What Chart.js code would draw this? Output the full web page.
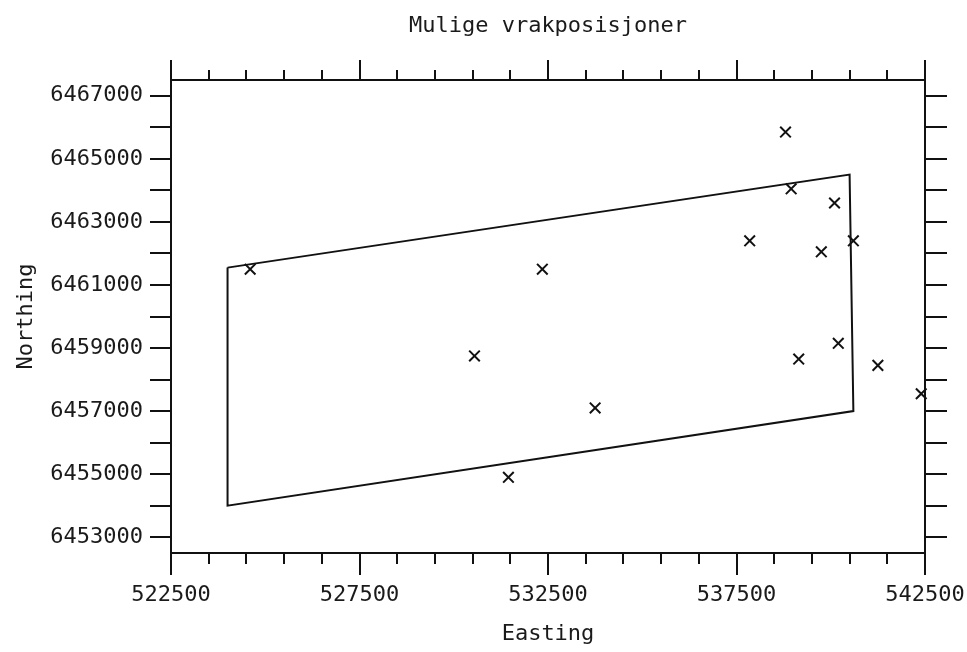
<!DOCTYPE html>
<html>
<head>
<meta charset="utf-8">
<title>Mulige vrakposisjoner</title>
<script src="https://cdn.jsdelivr.net/npm/chart.js@4.4.1/dist/chart.umd.min.js"></script>
<style>
  html, body { margin: 0; padding: 0; background: #fff; }
  #wrap { width: 967px; height: 652px; }
</style>
</head>
<body>
<div id="wrap"><canvas id="vrakChart" width="967" height="652"></canvas></div>
<script>
// possible wreck positions
const eastings  = [524600, 532350, 530550, 531450, 533750, 537850, 538800, 538950, 540100, 539750, 540600, 539150, 540200, 541250, 542400];
const northings = [6461500, 6461500, 6458750, 6454900, 6457100, 6462400, 6465850, 6464050, 6463600, 6462050, 6462400, 6458650, 6459150, 6458450, 6457550];

// search area outline (closed)
const areaEast  = [524000, 540500, 540600, 524000, 524000];
const areaNorth = [6461550, 6464500, 6457000, 6454000, 6461550];

// axes
const xLabelTicks = [522500, 527500, 532500, 537500, 542500];
const yLabelTicks = [6453000, 6455000, 6457000, 6459000, 6461000, 6463000, 6465000, 6467000];
const xMin = 522500, xMax = 542500;
const yMin = 6452500, yMax = 6467500;
const tickStep = 1000;

const INK = "#111";
const TXT = "#1a1a1a";
const FONT = "'DejaVu Sans Mono', 'Liberation Mono', monospace";
const FSIZE = 22;

function stepTicks(from, to) {
  const out = [];
  for (let v = from; v <= to; v += tickStep) out.push({ value: v });
  return out;
}
const xTickBuild = s => { s.ticks = stepTicks(xMin, xMax); };
const yTickBuild = s => { s.ticks = stepTicks(yLabelTicks[0], yLabelTicks[yLabelTicks.length - 1]); };

// plotter style ticks: long/short on x, all same on y, drawn outward on all four sides
const tickMarks = {
  id: 'tickMarks',
  afterDraw(chart) {
    const ctx = chart.ctx;
    const a = chart.chartArea;
    const sx = chart.scales.x, sy = chart.scales.y;
    ctx.save();
    ctx.strokeStyle = INK;
    ctx.lineWidth = 2;
    ctx.beginPath();
    sx.ticks.forEach(t => {
      const px = Math.round(sx.getPixelForValue(t.value));
      const big = xLabelTicks.includes(t.value);
      ctx.moveTo(px, a.bottom); ctx.lineTo(px, a.bottom + (big ? 22 : 11));
      ctx.moveTo(px, a.top);    ctx.lineTo(px, a.top - (big ? 20 : 10));
    });
    sy.ticks.forEach(t => {
      const py = Math.round(sy.getPixelForValue(t.value));
      ctx.moveTo(a.left, py);  ctx.lineTo(a.left - 21, py);
      ctx.moveTo(a.right, py); ctx.lineTo(a.right + 22, py);
    });
    ctx.stroke();
    ctx.restore();
  }
};

const wrecks = eastings.map((e, i) => ({ x: e, y: northings[i] }));
const area = areaEast.map((e, i) => ({ x: e, y: areaNorth[i] }));

const CHART = document.getElementById("vrakChart");
let vrakChart = new Chart(CHART, {
  type: 'scatter',
  data: {
    datasets: [
      {
        label: "Område",
        data: area,
        showLine: true,
        fill: false,
        tension: 0,
        borderColor: INK,
        borderWidth: 2,
        pointRadius: 0,
        clip: false
      },
      {
        label: "Vrak",
        data: wrecks,
        pointStyle: 'crossRot',
        pointRadius: 7.5,
        pointBorderColor: INK,
        pointBorderWidth: 2,
        borderColor: INK,
        clip: false
      }
    ]
  },
  options: {
    responsive: false,
    animation: false,
    devicePixelRatio: 1,
    layout: { padding: 0 },
    plugins: {
      legend: { display: false },
      tooltip: { enabled: false },
      title: {
        display: true,
        text: "Mulige vrakposisjoner",
        fullSize: false,
        color: TXT,
        font: { family: FONT, size: FSIZE, weight: 'normal' },
        padding: { top: 13, bottom: 0 }
      }
    },
    scales: {
      x: {
        type: 'linear',
        position: 'bottom',
        min: xMin, max: xMax,
        afterBuildTicks: xTickBuild,
        afterFit: s => { s.height = 99; s.paddingLeft = 0; s.paddingRight = 0; },
        ticks: {
          autoSkip: false, maxRotation: 0, padding: 7,
          color: TXT, font: { family: FONT, size: FSIZE },
          callback: v => xLabelTicks.includes(v) ? String(v) : ''
        },
        grid: { drawOnChartArea: false, tickLength: 22, tickColor: 'rgba(0,0,0,0)' },
        border: { display: true, color: INK, width: 2 },
        title: { display: true, text: "Easting", color: TXT, font: { family: FONT, size: FSIZE }, padding: { top: 0, bottom: 5 } }
      },
      x2: {
        type: 'linear',
        position: 'top',
        min: xMin, max: xMax,
        afterBuildTicks: xTickBuild,
        afterFit: s => { s.height = 80 - (FSIZE * 1.2 + 13); s.paddingLeft = 0; s.paddingRight = 0; },
        ticks: { display: false },
        grid: { drawOnChartArea: false, drawTicks: false },
        border: { display: true, color: INK, width: 2 }
      },
      y: {
        type: 'linear',
        position: 'left',
        min: yMin, max: yMax,
        afterBuildTicks: yTickBuild,
        afterFit: s => { s.width = 171; },
        ticks: {
          autoSkip: false, padding: 7,
          color: TXT, font: { family: FONT, size: FSIZE },
          callback: v => yLabelTicks.includes(v) ? String(v) : ''
        },
        grid: { drawOnChartArea: false, tickLength: 21, tickColor: 'rgba(0,0,0,0)' },
        border: { display: true, color: INK, width: 2 },
        title: { display: true, text: "Northing", color: TXT, font: { family: FONT, size: FSIZE }, padding: { top: 13, bottom: 0 } }
      },
      y2: {
        type: 'linear',
        position: 'right',
        min: yMin, max: yMax,
        afterBuildTicks: yTickBuild,
        afterFit: s => { s.width = 42; },
        ticks: { display: false },
        grid: { drawOnChartArea: false, drawTicks: false },
        border: { display: true, color: INK, width: 2 }
      }
    }
  },
  plugins: [tickMarks]
});
</script>
</body>
</html>
